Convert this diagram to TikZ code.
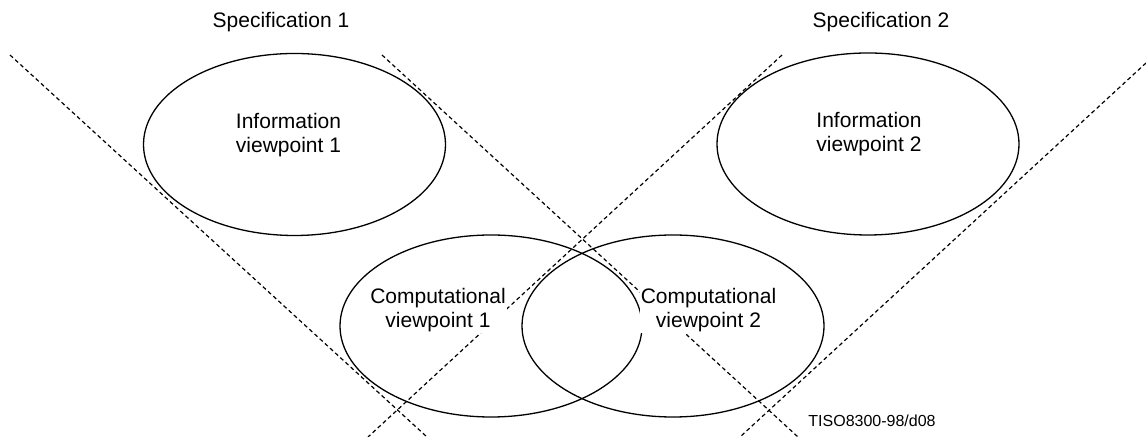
\documentclass[tikz,border=0pt]{standalone}
\usepackage{fontspec}
\setmainfont{Liberation Sans}
\usetikzlibrary{shapes.geometric}

\tikzset{
  viewpoint/.style={draw, ellipse, line width=0.65pt, inner sep=0pt, minimum width=151pt, minimum height=91pt},
  cutline/.style={line width=0.6pt, dash pattern=on 2pt off 1.5pt},
  vptext/.style={fill=white, inner sep=0.5pt, align=center, font=\fontsize{10.5}{12}\selectfont},
  spectext/.style={inner sep=0pt, font=\fontsize{10.5}{12}\selectfont}
}

\begin{document}
\begin{tikzpicture}[x=0.5pt, y=-0.5pt]
			\useasboundingbox (0,0) rectangle (1146,437);
			
			% Specification borders
			\coordinate (a1) at (10,55);    \coordinate (a2) at (427,437);
			\coordinate (b1) at (382,55);   \coordinate (b2) at (798,437);
			\coordinate (c1) at (1146,63);  \coordinate (c2) at (740,437);
			\coordinate (d1) at (782,55);   \coordinate (d2) at (368,437);
			\draw[cutline] (a1) -- (a2);
			\draw[cutline] (b1) -- (b2);
			\draw[cutline] (c1) -- (c2);
			\draw[cutline] (d1) -- (d2);
			
			% Viewpoints
			\node[viewpoint] (info1) at (294.5,144.5) {};
			\node[viewpoint] (info2) at (868,144) {};
			\node[viewpoint] (comp1) at (491,326) {};
			\node[viewpoint] (comp2) at (673,326) {};
			
			% Texts
			\node[spectext] (spec1) at (281,22) {Specification 1};
			\node[spectext] (spec2) at (881,22) {Specification 2};
			\node[vptext] (info1txt) at (288.5,135) {Information\\viewpoint 1};
			\node[vptext] (info2txt) at (869,134) {Information\\viewpoint 2};
			\node[vptext] (comp1txt) at (438,310) {Computational\\viewpoint 1};
			\node[vptext] (comp2txt) at (708.5,310) {Computational\\viewpoint 2};
			\node[spectext, font=\fontsize{8}{9}\selectfont, anchor=west] (ref) at (808,421) {TISO8300-98/d08};
		\end{tikzpicture}
\end{document}
